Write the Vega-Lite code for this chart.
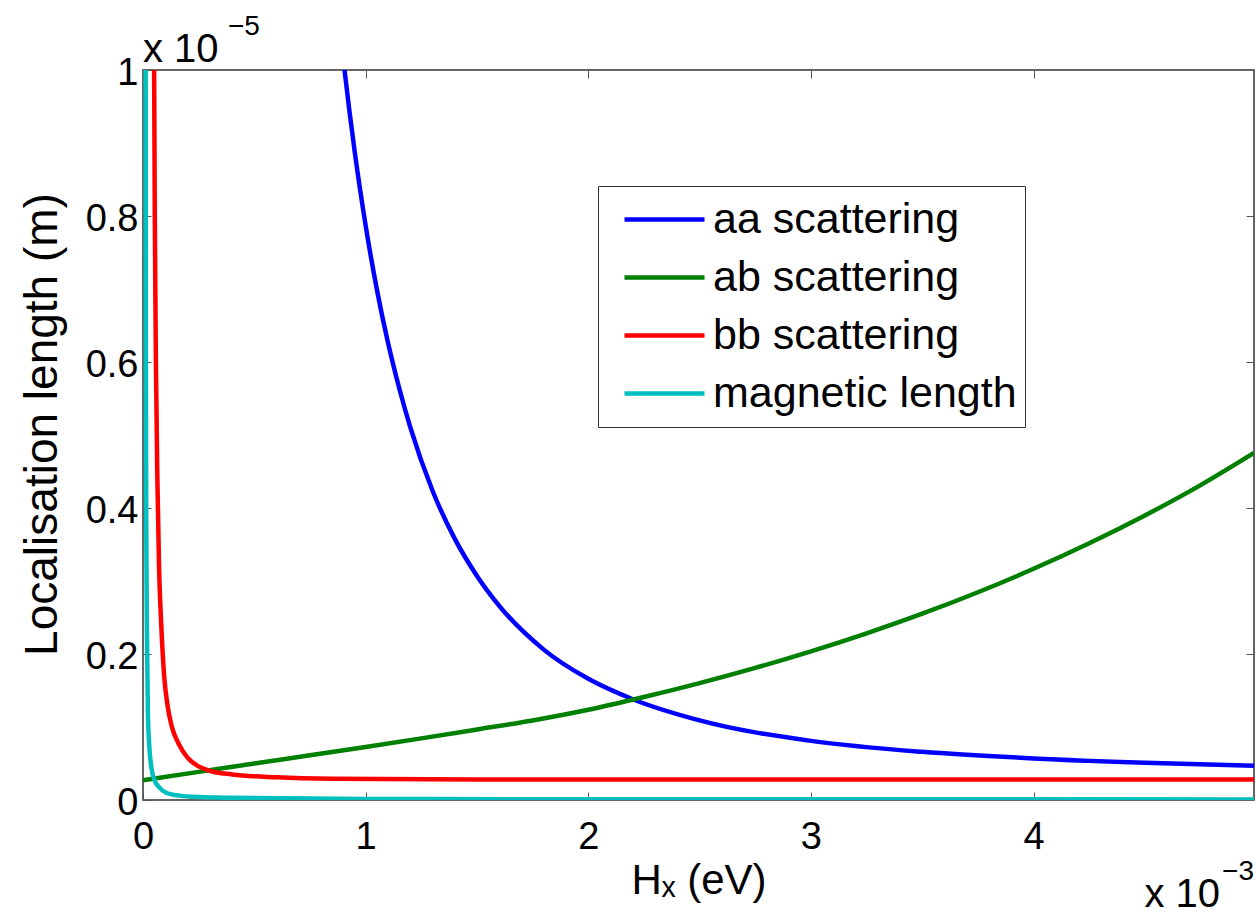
{
  "$schema": "https://vega.github.io/schema/vega-lite/v6.json",
  "width": 1111,
  "height": 730,
  "autosize": "none",
  "padding": {"left": 143, "top": 70, "right": 2, "bottom": 114},
  "background": "white",
  "config": {
    "view": {"stroke": "#333333", "strokeWidth": 1.5},
    "font": "Liberation Sans",
    "axis": {"labelFont": "Liberation Sans", "titleFont": "Liberation Sans", "labelColor": "black", "titleColor": "black", "titleFontWeight": "normal", "grid": false, "domain": false, "tickColor": "#555555", "tickWidth": 1}
  },
  "datasets": {
    "curves": [
      {"series": "aa scattering", "h": 0.88, "L": 1.071},
      {"series": "aa scattering", "h": 0.9, "L": 1.014},
      {"series": "aa scattering", "h": 0.95, "L": 0.89},
      {"series": "aa scattering", "h": 1.0, "L": 0.787},
      {"series": "aa scattering", "h": 1.05, "L": 0.7},
      {"series": "aa scattering", "h": 1.1, "L": 0.627},
      {"series": "aa scattering", "h": 1.15, "L": 0.565},
      {"series": "aa scattering", "h": 1.2, "L": 0.511},
      {"series": "aa scattering", "h": 1.3, "L": 0.424},
      {"series": "aa scattering", "h": 1.4, "L": 0.358},
      {"series": "aa scattering", "h": 1.5, "L": 0.307},
      {"series": "aa scattering", "h": 1.6, "L": 0.266},
      {"series": "aa scattering", "h": 1.8, "L": 0.206},
      {"series": "aa scattering", "h": 2.0, "L": 0.166},
      {"series": "aa scattering", "h": 2.2, "L": 0.138},
      {"series": "aa scattering", "h": 2.5, "L": 0.109},
      {"series": "aa scattering", "h": 3.0, "L": 0.081},
      {"series": "aa scattering", "h": 3.5, "L": 0.066},
      {"series": "aa scattering", "h": 4.0, "L": 0.057},
      {"series": "aa scattering", "h": 4.5, "L": 0.051},
      {"series": "aa scattering", "h": 4.99, "L": 0.047},
      {"series": "ab scattering", "h": 0.0, "L": 0.027},
      {"series": "ab scattering", "h": 0.25, "L": 0.0385},
      {"series": "ab scattering", "h": 0.5, "L": 0.05},
      {"series": "ab scattering", "h": 0.75, "L": 0.0613},
      {"series": "ab scattering", "h": 1.0, "L": 0.0727},
      {"series": "ab scattering", "h": 1.25, "L": 0.0844},
      {"series": "ab scattering", "h": 1.5, "L": 0.0966},
      {"series": "ab scattering", "h": 1.75, "L": 0.109},
      {"series": "ab scattering", "h": 2.0, "L": 0.1236},
      {"series": "ab scattering", "h": 2.25, "L": 0.1411},
      {"series": "ab scattering", "h": 2.5, "L": 0.1601},
      {"series": "ab scattering", "h": 2.75, "L": 0.1809},
      {"series": "ab scattering", "h": 3.0, "L": 0.2036},
      {"series": "ab scattering", "h": 3.25, "L": 0.2283},
      {"series": "ab scattering", "h": 3.5, "L": 0.2552},
      {"series": "ab scattering", "h": 3.75, "L": 0.2846},
      {"series": "ab scattering", "h": 4.0, "L": 0.3167},
      {"series": "ab scattering", "h": 4.25, "L": 0.3517},
      {"series": "ab scattering", "h": 4.5, "L": 0.3898},
      {"series": "ab scattering", "h": 4.75, "L": 0.4314},
      {"series": "ab scattering", "h": 4.99, "L": 0.4755},
      {"series": "bb scattering", "h": 0.05, "L": 1.0},
      {"series": "bb scattering", "h": 0.053, "L": 0.8},
      {"series": "bb scattering", "h": 0.058, "L": 0.6},
      {"series": "bb scattering", "h": 0.064, "L": 0.45},
      {"series": "bb scattering", "h": 0.072, "L": 0.32},
      {"series": "bb scattering", "h": 0.082, "L": 0.24},
      {"series": "bb scattering", "h": 0.095, "L": 0.17},
      {"series": "bb scattering", "h": 0.11, "L": 0.13},
      {"series": "bb scattering", "h": 0.13, "L": 0.1},
      {"series": "bb scattering", "h": 0.16, "L": 0.077},
      {"series": "bb scattering", "h": 0.2, "L": 0.058},
      {"series": "bb scattering", "h": 0.25, "L": 0.046},
      {"series": "bb scattering", "h": 0.3, "L": 0.04},
      {"series": "bb scattering", "h": 0.4, "L": 0.035},
      {"series": "bb scattering", "h": 0.6, "L": 0.031},
      {"series": "bb scattering", "h": 0.85, "L": 0.029},
      {"series": "bb scattering", "h": 1.5, "L": 0.028},
      {"series": "bb scattering", "h": 4.99, "L": 0.028},
      {"series": "magnetic length", "h": 0.012, "L": 1.0},
      {"series": "magnetic length", "h": 0.013, "L": 0.6},
      {"series": "magnetic length", "h": 0.015, "L": 0.35},
      {"series": "magnetic length", "h": 0.018, "L": 0.22},
      {"series": "magnetic length", "h": 0.022, "L": 0.12},
      {"series": "magnetic length", "h": 0.028, "L": 0.075},
      {"series": "magnetic length", "h": 0.037, "L": 0.046},
      {"series": "magnetic length", "h": 0.052, "L": 0.027},
      {"series": "magnetic length", "h": 0.074, "L": 0.017},
      {"series": "magnetic length", "h": 0.104, "L": 0.01},
      {"series": "magnetic length", "h": 0.164, "L": 0.006},
      {"series": "magnetic length", "h": 0.25, "L": 0.004},
      {"series": "magnetic length", "h": 0.4, "L": 0.003},
      {"series": "magnetic length", "h": 1.0, "L": 0.0015},
      {"series": "magnetic length", "h": 2.0, "L": 0.001},
      {"series": "magnetic length", "h": 4.99, "L": 0.0008}
    ],
    "one": [{"top": "x 10", "topexp": "−5", "bottom": "x 10", "bottomexp": "−3"}]
  },
  "resolve": {"axis": {"x": "independent", "y": "independent"}},
  "layer": [
    {
      "data": {"name": "curves"},
      "mark": {"type": "line", "strokeWidth": 4.5, "clip": true, "interpolate": "monotone"},
      "encoding": {
        "x": {"field": "h", "type": "quantitative", "scale": {"domain": [0, 4.99], "nice": false, "zero": false},
          "axis": {"orient": "bottom", "values": [0, 1, 2, 3, 4], "format": "~g", "title": "Hₓ (eV)", "labelFontSize": 38, "labelPadding": 26, "labelFlush": false, "tickSize": -8, "titleFontSize": 42, "titlePadding": 4}},
        "y": {"field": "L", "type": "quantitative", "scale": {"domain": [0, 1], "nice": false, "zero": false},
          "axis": {"orient": "left", "values": [0, 0.2, 0.4, 0.6, 0.8, 1], "format": "~g", "title": "Localisation length (m)", "labelFontSize": 38, "labelPadding": 13, "labelOffset": 3, "labelFlush": false, "tickSize": -8, "titleFontSize": 46, "titlePadding": 19, "titleY": 354}},
        "color": {"field": "series", "type": "nominal",
          "scale": {"domain": ["aa scattering", "ab scattering", "bb scattering", "magnetic length"], "range": ["#0000FF", "#008000", "#FF0000", "#00BFBF"]},
          "legend": {"orient": "none", "legendX": 455, "legendY": 116, "title": null, "symbolType": "stroke", "symbolSize": 6400, "symbolStrokeWidth": 4.5, "symbolOffset": 16, "clipHeight": 51, "labelFontSize": 43, "labelFont": "Liberation Sans", "labelColor": "black", "labelLimit": 600, "labelOffset": 6, "strokeColor": "#333333", "fillColor": "white", "padding": 8, "rowPadding": 7}}
      }
    },
    {
      "data": {"name": "one"},
      "mark": {"type": "text", "align": "left", "baseline": "alphabetic", "fontSize": 40, "dy": -8, "color": "black"},
      "encoding": {
        "text": {"field": "top"},
        "x": {"datum": 0, "type": "quantitative", "axis": {"orient": "top", "values": [1, 2, 3, 4], "labels": false, "title": null, "tickSize": -8}},
        "y": {"datum": 1, "type": "quantitative", "axis": {"orient": "right", "values": [0.2, 0.4, 0.6, 0.8], "labels": false, "title": null, "tickSize": -8}}
      }
    },
    {
      "data": {"name": "one"},
      "mark": {"type": "text", "align": "left", "baseline": "alphabetic", "fontSize": 28, "dx": 85, "dy": -35, "color": "black"},
      "encoding": {
        "text": {"field": "topexp"},
        "x": {"datum": 0, "type": "quantitative", "axis": null},
        "y": {"datum": 1, "type": "quantitative", "axis": null}
      }
    },
    {
      "data": {"name": "one"},
      "mark": {"type": "text", "align": "right", "baseline": "alphabetic", "fontSize": 40, "dx": -34, "dy": 107, "color": "black"},
      "encoding": {
        "text": {"field": "bottom"},
        "x": {"datum": 4.99, "type": "quantitative", "axis": null},
        "y": {"datum": 0, "type": "quantitative", "axis": null}
      }
    },
    {
      "data": {"name": "one"},
      "mark": {"type": "text", "align": "right", "baseline": "alphabetic", "fontSize": 28, "dx": 0, "dy": 80, "color": "black"},
      "encoding": {
        "text": {"field": "bottomexp"},
        "x": {"datum": 4.99, "type": "quantitative", "axis": null},
        "y": {"datum": 0, "type": "quantitative", "axis": null}
      }
    }
  ]
}
